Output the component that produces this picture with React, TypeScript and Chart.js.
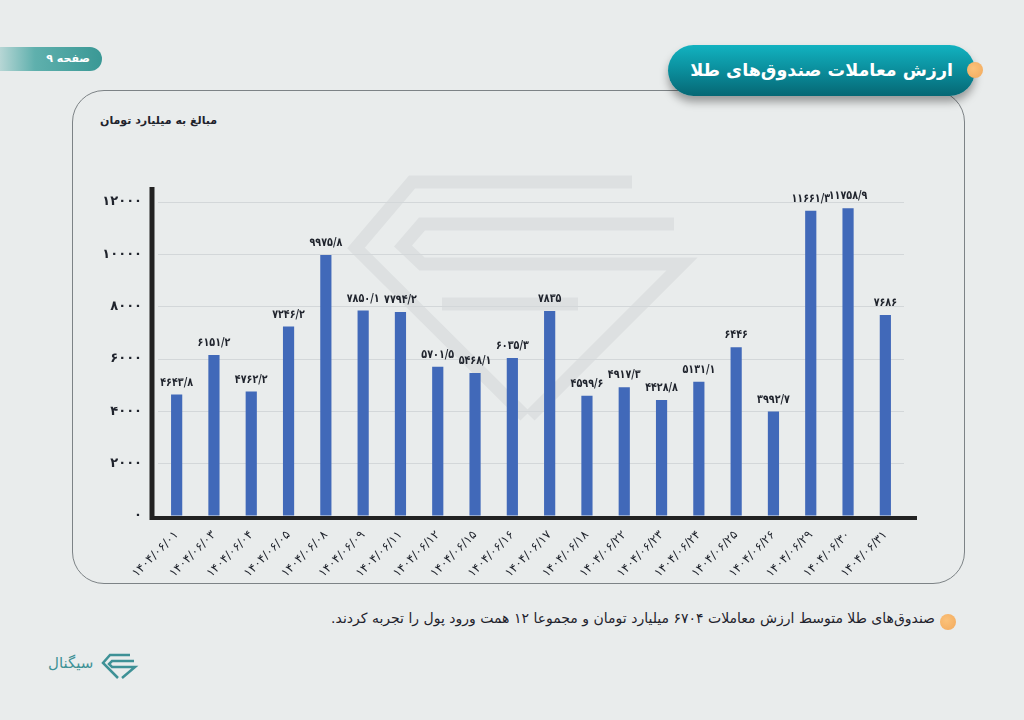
import React, { useEffect, useRef } from "react";
import { Chart, registerables } from "chart.js";

Chart.register(...registerables);

const dates = [
  "1404/06/01", "1404/06/03", "1404/06/04", "1404/06/05", "1404/06/08",
  "1404/06/09", "1404/06/11", "1404/06/12", "1404/06/15", "1404/06/16",
  "1404/06/17", "1404/06/18", "1404/06/22", "1404/06/23", "1404/06/24",
  "1404/06/25", "1404/06/26", "1404/06/29", "1404/06/30", "1404/06/31",
];

const tradeValue = [
  4643.8, 6151.2, 4762.2, 7246.2, 9975.8,
  7850.1, 7794.2, 5701.5, 5468.1, 6035.3,
  7835, 4599.6, 4917.3, 4428.8, 5131.1,
  6446, 3992.7, 11661.3, 11758.9, 7686,
];

const yMax = 12000;
const yStep = 2000;

const FONT = "'DejaVu Sans', sans-serif";
const BAR = "#4169b9";
const INK = "#1f232c";

const toFa = (v: number | string) =>
  String(v)
    .replace(".", "/")
    .replace(/\d/g, (d) => "۰۱۲۳۴۵۶۷۸۹"[+d]);

// thick axis lines like the original, drawn just outside the chart area
const axisLines = {
  id: "axisLines",
  afterDatasetsDraw(chart: any) {
    const { ctx, chartArea: a } = chart;
    ctx.save();
    ctx.strokeStyle = "#222";
    ctx.lineWidth = 5;
    ctx.beginPath();
    ctx.moveTo(a.left - 6, a.top - 15);
    ctx.lineTo(a.left - 6, a.bottom + 4);
    ctx.stroke();
    ctx.lineWidth = 4;
    ctx.beginPath();
    ctx.moveTo(a.left - 8, a.bottom + 2);
    ctx.lineTo(a.right + 13, a.bottom + 2);
    ctx.stroke();
    ctx.restore();
  },
};

// value above each bar, squeezed a little like the condensed original font
const valueLabels = {
  id: "valueLabels",
  afterDatasetsDraw(chart: any) {
    const { ctx } = chart;
    const meta = chart.getDatasetMeta(0);
    ctx.save();
    ctx.fillStyle = INK;
    ctx.font = `bold 12px ${FONT}`;
    ctx.textAlign = "center";
    ctx.textBaseline = "bottom";
    meta.data.forEach((bar: any, i: number) => {
      ctx.save();
      ctx.translate(bar.x, bar.y - 6);
      ctx.scale(0.8, 1);
      ctx.fillText(toFa(tradeValue[i]), 0, 0);
      ctx.restore();
    });
    ctx.restore();
  },
};

const GoldChart: React.FC = () => {
  const canvasRef = useRef<HTMLCanvasElement | null>(null);
  const chartRef = useRef<any>(null);

  useEffect(() => {
    if (!canvasRef.current) return;
    const ctx = canvasRef.current.getContext("2d");
    if (!ctx) return;
    if (chartRef.current) chartRef.current.destroy();

    chartRef.current = new Chart(ctx, {
      type: "bar",
      data: {
        labels: dates.map(toFa),
        datasets: [
          {
            data: tradeValue,
            backgroundColor: BAR,
            barPercentage: 0.3,
            categoryPercentage: 1,
          },
        ],
      },
      options: {
        responsive: false,
        animation: false,
        layout: { padding: { top: 32, right: 36, left: 0, bottom: 0 } },
        plugins: { legend: { display: false }, tooltip: { enabled: false } },
        scales: {
          y: {
            min: 0,
            max: yMax,
            border: { display: false },
            grid: { color: "#d3d7d9", drawTicks: false },
            ticks: {
              stepSize: yStep,
              padding: 16,
              color: INK,
              font: { family: FONT, size: 13, weight: "bold" },
              callback: (v: any) => toFa(v),
            },
            afterFit: (s: any) => {
              s.width = 78;
            },
          },
          x: {
            border: { display: false },
            grid: { display: false },
            ticks: {
              minRotation: 45,
              maxRotation: 45,
              padding: 4,
              color: INK,
              font: { family: FONT, size: 12 },
            },
            afterFit: (s: any) => {
              s.height = 74;
            },
          },
        },
      },
      plugins: [axisLines, valueLabels],
    });

    return () => {
      chartRef.current?.destroy();
    };
  }, []);

  return <canvas ref={canvasRef} width={860} height={420} style={{ width: 860, height: 420 }} />;
};

export default function App() {
  return (
    <div
      style={{
        position: "fixed",
        left: 0,
        top: 0,
        width: 1024,
        height: 720,
        background: "#e9ecec",
        overflow: "hidden",
        fontFamily: FONT,
      }}
    >
      {/* page tag */}
      <div
        style={{
          position: "absolute",
          left: -20,
          top: 47,
          width: 122,
          height: 24,
          borderRadius: 12,
          background: "linear-gradient(90deg, rgba(233,236,236,0) 0%, #5fb0ad 45%, #3a9895 100%)",
          color: "#fff",
          fontSize: 11,
          fontWeight: "bold",
          direction: "rtl",
          textAlign: "right",
          lineHeight: "24px",
          paddingRight: 12,
          boxSizing: "border-box",
        }}
      >
        صفحه ۹
      </div>

      {/* card */}
      <div
        style={{
          position: "absolute",
          left: 72,
          top: 90,
          width: 893,
          height: 494,
          border: "1px solid #7d8386",
          borderRadius: 32,
          boxSizing: "border-box",
        }}
      />

      {/* watermark */}
      <svg width={1024} height={720} style={{ position: "absolute", left: 0, top: 0 }}>
        <g fill="none" stroke="#dde0e1" strokeWidth={13} strokeLinejoin="miter">
          <path d="M 632 182 L 412 182 L 356 248 L 525 416" />
          <path d="M 674 224 L 422 224 L 403 246 L 422 264 L 682 264 L 530 416" />
          <path d="M 578 304 L 442 304" />
        </g>
      </svg>

      <div
        style={{
          position: "absolute",
          left: 100,
          top: 114,
          fontSize: 11,
          fontWeight: "bold",
          color: INK,
          direction: "rtl",
          whiteSpace: "nowrap",
        }}
      >
        مبالغ به میلیارد تومان
      </div>

      <div style={{ position: "absolute", left: 80, top: 170 }}>
        <GoldChart />
      </div>

      {/* title pill */}
      <div
        style={{
          position: "absolute",
          left: 668,
          top: 45,
          width: 307,
          height: 51,
          borderRadius: 26,
          background: "linear-gradient(180deg, #12b2c0 0%, #0a8a98 55%, #066774 100%)",
          boxShadow: "0 6px 8px rgba(0,0,0,0.35)",
          color: "#fff",
          fontSize: 17.5,
          fontWeight: "bold",
          direction: "rtl",
          textAlign: "right",
          lineHeight: "51px",
          paddingRight: 22,
          boxSizing: "border-box",
          whiteSpace: "nowrap",
        }}
      >
        ارزش معاملات صندوق‌های طلا
      </div>
      <div
        style={{
          position: "absolute",
          left: 967,
          top: 62,
          width: 16,
          height: 16,
          borderRadius: 8,
          background: "radial-gradient(circle at 40% 40%, #fbc27a, #f2a95c)",
        }}
      />

      {/* footer note */}
      <div
        style={{
          position: "absolute",
          right: 89,
          top: 610,
          fontSize: 14,
          color: INK,
          direction: "rtl",
          whiteSpace: "nowrap",
        }}
      >
        صندوق‌های طلا متوسط ارزش معاملات ۶۷۰۴ میلیارد تومان و مجموعا ۱۲ همت ورود پول را تجربه کردند.
      </div>
      <div
        style={{
          position: "absolute",
          left: 940,
          top: 614,
          width: 16,
          height: 16,
          borderRadius: 8,
          background: "radial-gradient(circle at 40% 40%, #fbc27a, #f2a95c)",
        }}
      />

      {/* logo */}
      <div
        style={{
          position: "absolute",
          left: 48,
          top: 654,
          fontSize: 15,
          color: "#3e9196",
          direction: "rtl",
          whiteSpace: "nowrap",
        }}
      >
        سیگنال
      </div>
      <svg width={40} height={30} style={{ position: "absolute", left: 100, top: 652 }}>
        <g fill="none" stroke="#3e9196" strokeWidth={2.5} strokeLinejoin="miter">
          <path d="M 30 3 L 10 3 L 3 11 L 18 26" />
          <path d="M 34 9 L 12 9 L 9 12 L 12 15 L 35 15 L 22 26" />
        </g>
      </svg>
    </div>
  );
}
